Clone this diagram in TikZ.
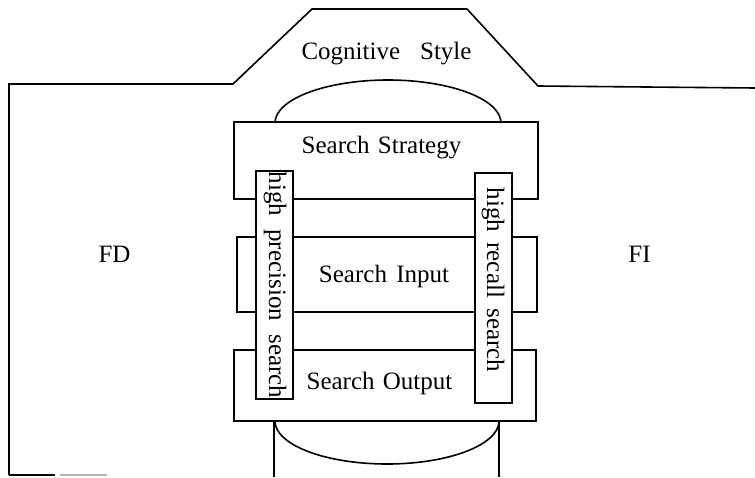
\documentclass[tikz,border=0pt]{standalone}
\usepackage{fontspec}
\setmainfont{Liberation Serif}
\begin{document}
\begin{tikzpicture}[x=1pt,y=-1pt,
  ln/.style={line width=1.6pt, line join=miter},
  lbl/.style={inner sep=0pt, anchor=base, font=\fontsize{25}{30}\selectfont},
  vlbl/.style={inner sep=0pt, rotate=-90, font=\fontsize{25}{30}\selectfont},
  tallbox/.style={ln, fill=white}]
\useasboundingbox (0,0) rectangle (755,477);
% outer frame
\draw[ln] (9,475) -- (9,84) -- (233,84) -- (312,9) -- (467,9) -- (538,86) -- (755,88);
\draw[ln] (9,475) -- (55,475);
\draw[line width=1.2pt, gray!60] (60,475) -- (107,475);
% top half ellipse
\draw[ln] (275,123) arc[start angle=180, end angle=360, x radius=113, y radius=43];
% bottom half ellipse and legs
\draw[ln] (275,421) arc[start angle=180, end angle=0, x radius=112, y radius=43];
\draw[ln] (274,421) -- (274,477);
\draw[ln] (499,421) -- (499,477);
% wide boxes
\draw[ln] (234,122) rectangle (538,199);
\draw[ln] (237,237) rectangle (537,312);
\draw[ln] (234,350) rectangle (536,421);
% tall boxes
\draw[tallbox] (256,171) rectangle (293,399);
\draw[tallbox] (475,173) rectangle (512,403);
% labels
\node[lbl] (cog) at (386.5,59) {Cognitive\hspace{20pt}Style};
\node[lbl] (strat) at (381.5,153) {Search\hspace{2pt} Strategy};
\node[lbl] (inp) at (384,282) {Search\hspace{3pt} Input};
\node[lbl] (outp) at (379.5,389) {Search\hspace{2pt} Output};
\node[lbl] (fd) at (114.5,262) {FD};
\node[lbl] (fi) at (639.5,262) {FI};
\node[vlbl] (prec) at (275,285) {high\hspace{7pt} precision\hspace{7pt} search};
\node[vlbl] (rec) at (493,280) {high\hspace{4pt} recall\hspace{4pt} search};
\end{tikzpicture}
\end{document}
